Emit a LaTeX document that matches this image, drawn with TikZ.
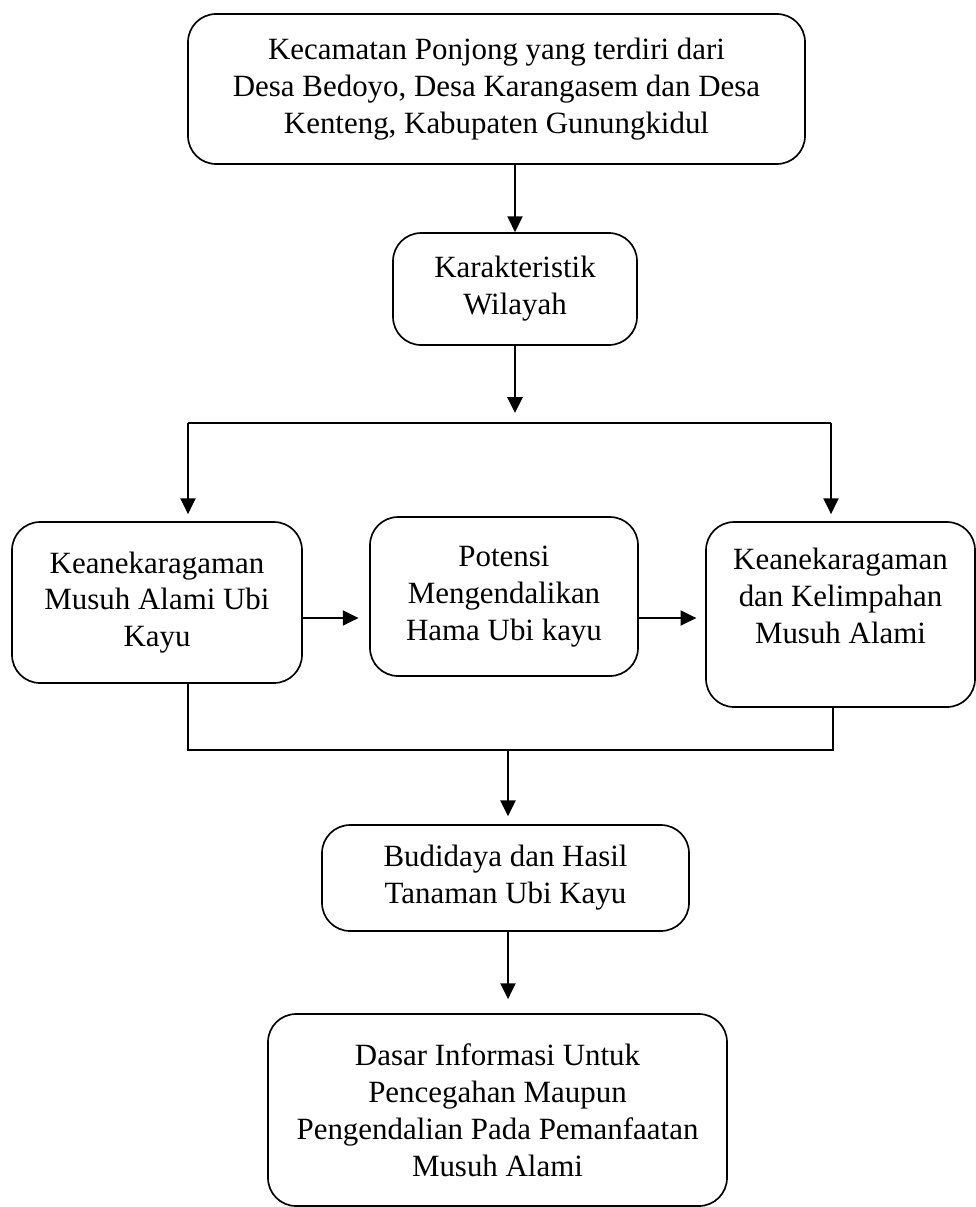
\documentclass[tikz,border=0pt]{standalone}
\usepackage{fontspec}
\setmainfont{Liberation Serif}
\usetikzlibrary{arrows.meta,positioning}

\begin{document}
\begin{tikzpicture}[x=0.02cm,y=-0.02cm,
    box/.style={draw,rounded corners=16pt,line width=0.95pt,align=center,
      font=\fontsize{17.6}{21}\selectfont,inner sep=0pt},
    arr/.style={line width=1.3pt,-{Triangle[length=9pt,width=8.5pt]}},
    bracket/.style={line width=0.7pt}]
  \useasboundingbox (0,0) rectangle (975,1207);
  % boxes: name/x/y/width/height/text
  \foreach \n/\x/\y/\w/\h/\txt in {
    wilayah/496.5/89/617/150/{Kecamatan Ponjong yang terdiri dari\\Desa Bedoyo, Desa Karangasem dan Desa\\Kenteng, Kabupaten Gunungkidul},
    karakter/515/289/244/112/{Karakteristik\\Wilayah},
    kiri/157/602.5/290/161/{Keanekaragaman\\Musuh Alami Ubi\\Kayu},
    tengah/504/596.5/268/159/{Potensi\\Mengendalikan\\Hama Ubi kayu},
    kanan/840.5/614.5/269/185/{Keanekaragaman\\dan Kelimpahan\\Musuh Alami\\\mbox{}},
    budidaya/505.5/878/367/106/{Budidaya dan Hasil\\Tanaman Ubi Kayu},
    dasar/497.5/1110/459/192/{Dasar Informasi Untuk\\Pencegahan Maupun\\Pengendalian Pada Pemanfaatan\\Musuh Alami}}
    \node[box,minimum width=\w*0.02cm,minimum height=\h*0.02cm] (\n) at (\x,\y) {\txt};

  \coordinate (split) at (515,413);
  \coordinate (bl) at (188,423);
  \coordinate (br) at (831,423);
  \coordinate (panah) at (0,618);
  \coordinate (jl) at (188,750);
  \coordinate (jr) at (833,750);
  \coordinate (join) at (508,750);

  \draw[arr] (wilayah.south -| karakter.north) -- (karakter.north);
  \draw[arr] (karakter.south) -- (split);
  \draw[bracket] (bl) -- (br);
  \draw[arr,shorten >=4pt] (bl) -- (bl |- kiri.north);
  \draw[arr,shorten >=4pt] (br) -- (br |- kanan.north);
  \draw[arr,shorten >=6pt] (kiri.east |- panah) -- (tengah.west |- panah);
  \draw[arr,shorten >=5pt] (tengah.east |- panah) -- (kanan.west |- panah);
  \draw[bracket] (kiri.south -| jl) -- (jl) -- (jr) -- (kanan.south -| jr);
  \draw[arr,shorten >=4.5pt] (join) -- (join |- budidaya.north);
  \draw[arr,shorten >=8pt] (budidaya.south -| join) -- (dasar.north -| join);
\end{tikzpicture}
\end{document}
